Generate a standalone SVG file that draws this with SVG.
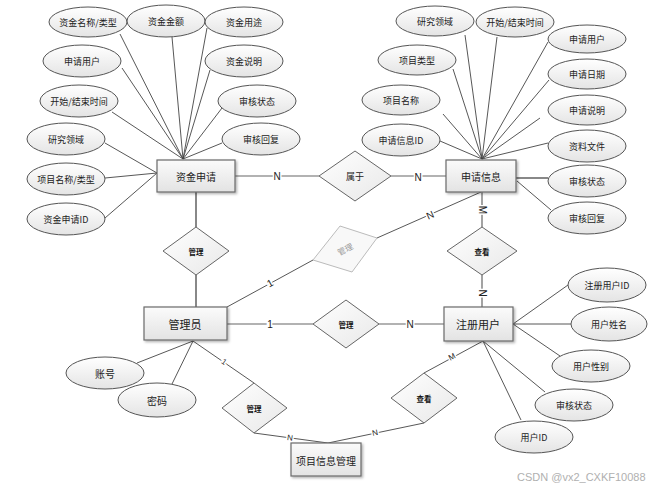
<svg xmlns="http://www.w3.org/2000/svg" width="665" height="490" viewBox="0 0 665 490">
<defs>
<linearGradient id="ge" x1="0" y1="0" x2="0" y2="1"><stop offset="0" stop-color="#ffffff"/><stop offset="1" stop-color="#e4e4e4"/></linearGradient>
<linearGradient id="gr" x1="0" y1="0" x2="0" y2="1"><stop offset="0" stop-color="#fbfbfb"/><stop offset="1" stop-color="#e3e3e3"/></linearGradient>
<linearGradient id="gd" x1="0" y1="0" x2="1" y2="1"><stop offset="0" stop-color="#ffffff"/><stop offset="1" stop-color="#e8e8e8"/></linearGradient>
<filter id="sh" x="-10%" y="-10%" width="130%" height="140%"><feDropShadow dx="1.5" dy="1.5" stdDeviation="0.8" flood-color="#000" flood-opacity="0.3"/></filter>
</defs>
<style>
.t{font-family:"Noto Sans CJK SC","Liberation Sans",sans-serif;font-size:9px;fill:#222;text-anchor:middle;dominant-baseline:central}
.te{font-size:10px}
.tb{font-size:11px}
.td{font-size:7.5px;font-weight:bold;fill:#111}
.attr{fill:url(#ge);stroke:#555;stroke-width:1}
.ent{fill:url(#gr);stroke:#6a6a6a;stroke-width:1.2;filter:url(#sh)}
.rel{fill:url(#gd);stroke:#666;stroke-width:1}
.ln{stroke:#444;stroke-width:0.9;fill:none}
.lr{stroke:#666;stroke-width:1.2;fill:none}
.lt{stroke:#888;stroke-width:2;fill:none}
.lb{font-family:"Liberation Sans",sans-serif;font-size:10px;fill:#222;text-anchor:middle;dominant-baseline:central;stroke:#fff;stroke-width:3;paint-order:stroke}
</style>
<g id="connectors">
<!-- 资金申请 attributes -->
<line class="ln" x1="183" y1="159" x2="120" y2="34"/>
<line class="ln" x1="183" y1="159" x2="172" y2="37"/>
<line class="ln" x1="183" y1="159" x2="207" y2="28"/>
<line class="ln" x1="183" y1="159" x2="122" y2="68"/>
<line class="ln" x1="183" y1="159" x2="210" y2="70"/>
<line class="ln" x1="183" y1="159" x2="112" y2="112"/>
<line class="ln" x1="183" y1="159" x2="222" y2="108"/>
<line class="ln" x1="183" y1="159" x2="222" y2="143"/>
<line class="ln" x1="157" y1="173" x2="105" y2="143"/>
<line class="ln" x1="157" y1="173" x2="105" y2="178"/>
<line class="ln" x1="157" y1="173" x2="105" y2="218"/>
<!-- 申请信息 attributes -->
<line class="ln" x1="482" y1="159" x2="465" y2="35"/>
<line class="ln" x1="482" y1="159" x2="497" y2="37"/>
<line class="ln" x1="482" y1="159" x2="548" y2="42"/>
<line class="ln" x1="482" y1="159" x2="453" y2="69"/>
<line class="ln" x1="482" y1="159" x2="549" y2="80"/>
<line class="ln" x1="482" y1="159" x2="443" y2="114"/>
<line class="ln" x1="482" y1="159" x2="540" y2="118"/>
<line class="ln" x1="482" y1="159" x2="440" y2="141"/>
<line class="ln" x1="482" y1="159" x2="548" y2="143"/>
<line class="lt" x1="516" y1="178" x2="548" y2="178"/>
<line class="ln" x1="517" y1="181" x2="551" y2="210"/>
<!-- 注册用户 attributes -->
<line class="ln" x1="513" y1="324" x2="568" y2="285"/>
<line class="ln" x1="513" y1="324" x2="571" y2="324"/>
<line class="ln" x1="513" y1="324" x2="560" y2="356"/>
<line class="ln" x1="483" y1="341" x2="545" y2="392"/>
<line class="ln" x1="483" y1="341" x2="521" y2="420"/>
<!-- 管理员 attributes -->
<line class="ln" x1="193" y1="341" x2="137" y2="363"/>
<line class="ln" x1="193" y1="341" x2="172" y2="384"/>
<!-- relationships -->
<line class="lr" x1="235" y1="176" x2="319" y2="176"/>
<line class="lr" x1="391" y1="176" x2="446" y2="176"/>
<line class="lt" x1="196" y1="192" x2="196" y2="227"/>
<line class="lt" x1="196" y1="275" x2="196" y2="307"/>
<line class="ln" x1="227" y1="307" x2="313" y2="260"/>
<line class="ln" x1="377" y1="238" x2="481" y2="192"/>
<line class="lr" x1="227" y1="324" x2="313" y2="324"/>
<line class="lr" x1="379" y1="324" x2="444" y2="324"/>
<line class="lr" x1="482" y1="192" x2="482" y2="227"/>
<line class="lr" x1="482" y1="275" x2="482" y2="307"/>
<line class="ln" x1="193" y1="341" x2="254" y2="383"/>
<line class="ln" x1="254" y1="433" x2="328" y2="443"/>
<line class="ln" x1="483" y1="341" x2="424" y2="373"/>
<line class="ln" x1="424" y1="423" x2="328" y2="443"/>
<!-- cardinality labels -->
<text class="lb" x="277" y="176">N</text>
<text class="lb" x="418" y="177">N</text>
<text class="lb" transform="translate(270,283) rotate(-29)">1</text>
<text class="lb" transform="translate(430,215) rotate(-24)">N</text>
<text class="lb" x="270" y="324">1</text>
<text class="lb" x="410" y="324">N</text>
<text class="lb" transform="translate(482,210) rotate(90)">M</text>
<text class="lb" transform="translate(482,293) rotate(90)">N</text>
<text class="lb" style="font-size:8px" transform="translate(224,362) rotate(35)">1</text>
<text class="lb" style="font-size:8px" transform="translate(290,438) rotate(8)">N</text>
<text class="lb" style="font-size:8px" transform="translate(452,357) rotate(-28)">M</text>
<text class="lb" style="font-size:8px" transform="translate(375,433) rotate(-12)">N</text>
</g>
<g id="e-zjsq"><rect class="ent" x="157" y="160" width="78" height="32"/><text class="t te" x="196" y="176">资金申请</text></g>
<g id="e-sqxx"><rect class="ent" x="446" y="160" width="70" height="32"/><text class="t te" x="481" y="176">申请信息</text></g>
<g id="e-gly"><rect class="ent" x="144" y="307" width="83" height="33"/><text class="t tb" x="185" y="324">管理员</text></g>
<g id="e-zcyh"><rect class="ent" x="444" y="307" width="69" height="34"/><text class="t tb" x="478" y="324">注册用户</text></g>
<g id="e-xmxxgl"><rect class="ent" x="291" y="443" width="70" height="33"/><text class="t te" x="326" y="460">项目信息管理</text></g>
<g id="r-sy"><polygon class="rel" points="355,151 391,176 355,201 319,176"/><text class="t" x="355" y="176">属于</text></g>
<g id="r-gl1"><polygon class="rel" points="196,227 229,251 196,275 163,251"/><text class="t td" x="196" y="251">管理</text></g>
<g id="r-gl2"><polygon class="rel" points="346,300 379,324 346,348 313,324"/><text class="t td" x="346" y="324">管理</text></g>
<g id="r-ck1"><polygon class="rel" points="482,227 517,251 482,275 447,251"/><text class="t td" x="482" y="251">查看</text></g>
<g id="r-gl3"><polygon class="rel" points="254,383 287,408 254,433 222,408"/><text class="t td" x="254" y="408">管理</text></g>
<g id="r-ck2"><polygon class="rel" points="424,373 457,398 424,423 391,398"/><text class="t td" x="424" y="398">查看</text></g>
<g id="r-gl-faded"><polygon points="340,226 377,238 352,272 313,260" fill="#f8f8f8" stroke="#bbb" stroke-width="1"/><text class="t" style="font-size:8px;fill:#999" transform="translate(345,249) rotate(-28)">管理</text></g>
<!-- 资金申请 attrs -->
<g id="a1"><ellipse class="attr" cx="88" cy="22" rx="39" ry="15"/><text class="t" x="88" y="22">资金名称/类型</text></g>
<g id="a2"><ellipse class="attr" cx="166" cy="21" rx="39" ry="16"/><text class="t" x="166" y="21">资金金额</text></g>
<g id="a3"><ellipse class="attr" cx="244" cy="22" rx="39" ry="15"/><text class="t" x="244" y="22">资金用途</text></g>
<g id="a4"><ellipse class="attr" cx="82" cy="61" rx="39" ry="16"/><text class="t" x="82" y="61">申请用户</text></g>
<g id="a5"><ellipse class="attr" cx="244" cy="61" rx="39" ry="16"/><text class="t" x="244" y="61">资金说明</text></g>
<g id="a6"><ellipse class="attr" cx="79" cy="101" rx="39" ry="16"/><text class="t" x="79" y="101">开始/结束时间</text></g>
<g id="a7"><ellipse class="attr" cx="257" cy="101" rx="39" ry="16"/><text class="t" x="257" y="101">审核状态</text></g>
<g id="a8"><ellipse class="attr" cx="66" cy="139" rx="39" ry="16"/><text class="t" x="66" y="139">研究领域</text></g>
<g id="a9"><ellipse class="attr" cx="261" cy="139" rx="39" ry="16"/><text class="t" x="261" y="139">审核回复</text></g>
<g id="a10"><ellipse class="attr" cx="66" cy="179" rx="39" ry="16"/><text class="t" x="66" y="179">项目名称/类型</text></g>
<g id="a11"><ellipse class="attr" cx="66" cy="219" rx="39" ry="16"/><text class="t" x="66" y="219">资金申请ID</text></g>
<!-- 申请信息 attrs -->
<g id="b1"><ellipse class="attr" cx="435" cy="21" rx="39" ry="15"/><text class="t" x="435" y="21">研究领域</text></g>
<g id="b2"><ellipse class="attr" cx="515" cy="22" rx="39" ry="15"/><text class="t" x="515" y="22">开始/结束时间</text></g>
<g id="b3"><ellipse class="attr" cx="587" cy="39" rx="39" ry="14"/><text class="t" x="587" y="39">申请用户</text></g>
<g id="b4"><ellipse class="attr" cx="417" cy="60" rx="39" ry="15"/><text class="t" x="417" y="60">项目类型</text></g>
<g id="b5"><ellipse class="attr" cx="587" cy="74" rx="39" ry="15"/><text class="t" x="587" y="74">申请日期</text></g>
<g id="b6"><ellipse class="attr" cx="401" cy="100" rx="39" ry="15"/><text class="t" x="401" y="100">项目名称</text></g>
<g id="b7"><ellipse class="attr" cx="587" cy="110" rx="39" ry="15"/><text class="t" x="587" y="110">申请说明</text></g>
<g id="b8"><ellipse class="attr" cx="401" cy="140" rx="39" ry="16"/><text class="t" x="401" y="140">申请信息ID</text></g>
<g id="b9"><ellipse class="attr" cx="587" cy="146" rx="39" ry="16"/><text class="t" x="587" y="146">资料文件</text></g>
<g id="b10"><ellipse class="attr" cx="587" cy="181" rx="39" ry="16"/><text class="t" x="587" y="181">审核状态</text></g>
<g id="b11"><ellipse class="attr" cx="587" cy="218" rx="39" ry="16"/><text class="t" x="587" y="218">审核回复</text></g>
<!-- 注册用户 attrs -->
<g id="c1"><ellipse class="attr" cx="607" cy="285" rx="39" ry="17"/><text class="t" x="607" y="285">注册用户ID</text></g>
<g id="c2"><ellipse class="attr" cx="609" cy="324" rx="38" ry="17"/><text class="t" x="609" y="324">用户姓名</text></g>
<g id="c3"><ellipse class="attr" cx="591" cy="366" rx="39" ry="16"/><text class="t" x="591" y="366">用户性别</text></g>
<g id="c4"><ellipse class="attr" cx="574" cy="405" rx="39" ry="16"/><text class="t" x="574" y="405">审核状态</text></g>
<g id="c5"><ellipse class="attr" cx="534" cy="437" rx="39" ry="16"/><text class="t" x="534" y="437">用户ID</text></g>
<!-- 管理员 attrs -->
<g id="d1"><ellipse class="attr" cx="105" cy="373" rx="39" ry="16"/><text class="t te" x="105" y="373">账号</text></g>
<g id="d2"><ellipse class="attr" cx="157" cy="400" rx="39" ry="17"/><text class="t te" x="157" y="400">密码</text></g>
<text x="517" y="481" font-family="Liberation Sans, sans-serif" font-size="11" fill="#b0b0b0">CSDN @vx2_CXKF10088</text>
</svg>
